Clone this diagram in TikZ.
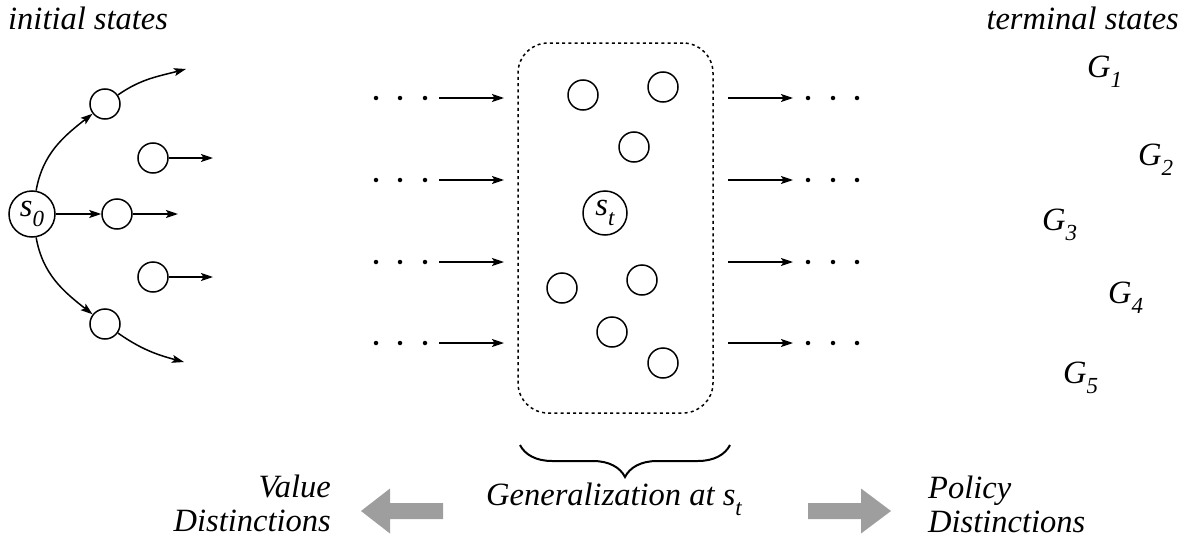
\documentclass[tikz,border=0pt]{standalone}
\usepackage{fontspec}
\setmainfont{Liberation Serif}
\newfontfamily\labelfont{Liberation Serif Italic}
\usetikzlibrary{arrows.meta,decorations.pathreplacing}

% lowered italic index, as in G_1 or s_t
\newcommand\lowsub[1]{\raisebox{-0.33em}{\fontsize{23}{23}\selectfont #1}}

\begin{document}
\begin{tikzpicture}[x=1pt,y=1pt,
  every node/.style={font=\labelfont\fontsize{32.5}{34}\selectfont},
  state/.style={circle,draw,line width=1.5pt,minimum size=30pt,inner sep=0pt},
  bigstate/.style={state,minimum size=46pt},
  link/.style={line width=1.5pt,-{Stealth[length=12pt,width=8pt,inset=2.5pt]}},
  dotmark/.style={circle,fill,inner sep=0pt,minimum size=4.5pt},
  region/.style={draw,line width=1.5pt,dash pattern=on 3pt off 3.2pt,
    rounded corners=30pt,minimum width=195pt,minimum height=370pt},
  goal/.style={anchor=base west,inner sep=0pt},
  bigarrow/.style={fill={rgb,255:red,158;green,158;blue,158}},
  bracestyle/.style={decorate,decoration={brace,amplitude=32pt},line width=2pt}
]
\useasboundingbox (0,0) rectangle (1187,-546);

% headings
\node[anchor=base west,inner sep=0pt] (init) at (8,-29) {initial states};
\node[anchor=base east,inner sep=0pt] (term) at (1179,-29) {terminal states};

% initial fan of states
\node[bigstate] (s0) at (32,-214) {s\lowsub{0}};
\node[state] (c1) at (105,-104) {};
\node[state] (c2) at (153,-158) {};
\node[state] (c3) at (117,-214) {};
\node[state] (c4) at (153,-277) {};
\node[state] (c5) at (105,-324) {};

\coordinate (e1) at (186,-69);
\coordinate (e2) at (213,-158);
\coordinate (e3) at (178,-214);
\coordinate (e4) at (213,-277);
\coordinate (e5) at (184,-362);

\draw[link] (s0) to[out=80,in=218] (c1);
\draw[link] (c1) to[out=35,in=195] (e1);
\draw[link] (c2) -- (e2);
\draw[link] (s0) -- (c3);
\draw[link] (c3) -- (e3);
\draw[link] (c4) -- (e4);
\draw[link] (s0) to[out=-80,in=142] (c5);
\draw[link] (c5) to[out=-35,in=165] (e5);

% the region around s_t
\node[region] (box) at (615.5,-228) {};
\node[state] (r1) at (583,-95) {};
\node[state] (r2) at (663,-87) {};
\node[state] (r3) at (634,-147) {};
\node[bigstate,minimum size=44pt] (st) at (605,-213) {s\lowsub{t}};
\node[state] (r4) at (562,-288) {};
\node[state] (r5) at (642,-280) {};
\node[state] (r6) at (612,-332) {};
\node[state] (r7) at (663,-363) {};

% incoming and outgoing trajectories
\foreach \i/\y in {1/98,2/180,3/262,4/343}{
  \node[dotmark] (la\i) at (376,-\y) {};
  \node[dotmark] (lb\i) at (400,-\y) {};
  \node[dotmark] (lc\i) at (425,-\y) {};
  \coordinate (ls\i) at (439,-\y);
  \coordinate (le\i) at (504,-\y);
  \draw[link] (ls\i) -- (le\i);
  \coordinate (rs\i) at (728,-\y);
  \coordinate (re\i) at (793,-\y);
  \draw[link] (rs\i) -- (re\i);
  \node[dotmark] (ra\i) at (808,-\y) {};
  \node[dotmark] (rb\i) at (833,-\y) {};
  \node[dotmark] (rc\i) at (857,-\y) {};
}

% terminal states
\node[goal] (g1) at (1087,-77) {G\lowsub{1}};
\node[goal] (g2) at (1138,-165) {G\lowsub{2}};
\node[goal] (g3) at (1042,-230) {G\lowsub{3}};
\node[goal] (g4) at (1108,-303) {G\lowsub{4}};
\node[goal] (g5) at (1063,-383) {G\lowsub{5}};

% generalization brace and labels
\coordinate (br) at (730,-445);
\coordinate (bl) at (520,-445);
\draw[bracestyle] (br) -- (bl);
\node[anchor=base,inner sep=0pt] (gen) at (614,-505) {Generalization at s\lowsub{t}};
\node[anchor=base east,align=right,inner sep=0pt] (val) at (331,-531)
  {Value\\Distinctions};
\node[anchor=base west,align=left,inner sep=0pt] (pol) at (928,-532)
  {Policy\\Distinctions};

% wide grey arrows
\fill[bigarrow] (443,-503) -- (390,-503) -- (390,-488.5) -- (361,-511)
  -- (390,-533.5) -- (390,-519) -- (443,-519) -- cycle;
\fill[bigarrow] (808,-503) -- (861,-503) -- (861,-488.5) -- (891,-511)
  -- (861,-533.5) -- (861,-519) -- (808,-519) -- cycle;
\end{tikzpicture}
\end{document}
